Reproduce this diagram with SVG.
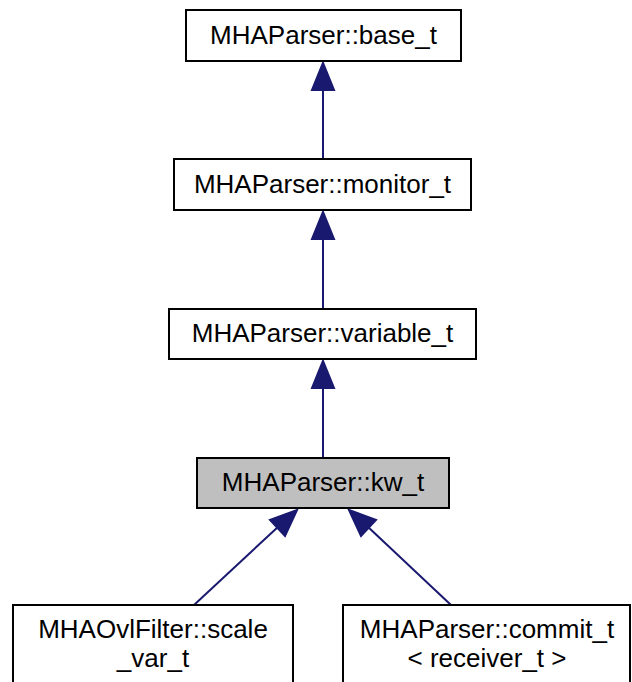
<svg xmlns="http://www.w3.org/2000/svg" width="632" height="682" viewBox="0 0 632 682">
<style>
.box{fill:#ffffff;stroke:#000000;stroke-width:2}
.cur{fill:#bfbfbf;stroke:#000000;stroke-width:2}
.lbl{font-family:"Liberation Sans",Arial,sans-serif;font-size:26px;fill:#000000;text-anchor:middle}
.edge{stroke:#191970;stroke-width:2;fill:none}
.head{fill:#191970;stroke:#191970;stroke-width:2}
</style>
<rect width="632" height="682" fill="#ffffff"/>
<g id="connectors">
<line class="edge" x1="323" y1="159" x2="323" y2="88"/>
<polygon class="head" points="323,63 312,90 334,90"/>
<line class="edge" x1="323" y1="309" x2="323" y2="237"/>
<polygon class="head" points="323,212 312,239 334,239"/>
<line class="edge" x1="323" y1="458" x2="323" y2="386"/>
<polygon class="head" points="323,361 312,388 334,388"/>
<line class="edge" x1="194" y1="605" x2="279" y2="526"/>
<polygon class="head" points="297,510 285,536 270,520"/>
<line class="edge" x1="451" y1="605" x2="367" y2="526"/>
<polygon class="head" points="349,510 376,520 361,536"/>
</g>
<g id="node_base">
<rect class="box" x="186" y="10" width="275" height="51"/>
<text class="lbl" x="323.5" y="44">MHAParser::base_t</text>
</g>
<g id="node_monitor">
<rect class="box" x="174" y="159" width="297" height="51"/>
<text class="lbl" x="322.5" y="193">MHAParser::monitor_t</text>
</g>
<g id="node_variable">
<rect class="box" x="169" y="309" width="307" height="50"/>
<text class="lbl" x="322.5" y="342">MHAParser::variable_t</text>
</g>
<g id="node_kw">
<rect class="cur" x="197" y="458" width="252" height="50"/>
<text class="lbl" x="323" y="491">MHAParser::kw_t</text>
</g>
<g id="node_scale_var">
<rect class="box" x="13" y="605" width="280" height="100"/>
<text class="lbl" x="153" y="638">MHAOvlFilter::scale</text>
<text class="lbl" x="153" y="667">_var_t</text>
</g>
<g id="node_commit">
<rect class="box" x="343" y="605" width="287" height="100"/>
<text class="lbl" x="487" y="638">MHAParser::commit_t</text>
<text class="lbl" x="487" y="667">&lt; receiver_t &gt;</text>
</g>
</svg>
